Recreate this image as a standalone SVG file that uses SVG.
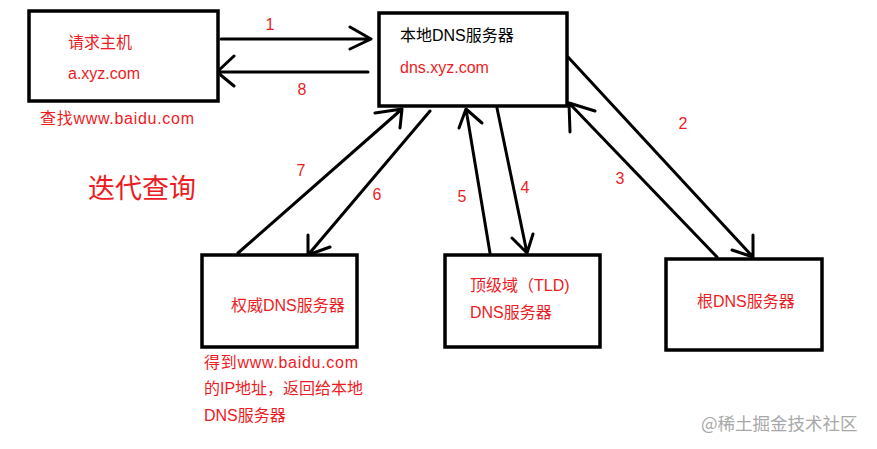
<svg xmlns="http://www.w3.org/2000/svg" width="877" height="449" viewBox="0 0 877 449">
<style>
.box{fill:#fff;stroke:#000;stroke-width:3.5}
.ln{fill:none;stroke:#000;stroke-width:3;stroke-linecap:round;stroke-linejoin:round}
.t{font-family:"Liberation Sans","Noto Sans CJK SC",sans-serif;font-size:16px;fill:#ED1C24}
.k{fill:#000}
.big{font-size:27px}
.wm{font-family:"Noto Sans CJK SC",sans-serif;font-size:17.5px;fill:#a8a8a8}
</style>
<rect width="877" height="449" fill="#fff"/>
<g id="connectors">
  <path class="ln" d="M221 39 L371 39 M350 27 L371 39 L350 49"/>
  <path class="ln" d="M368 72 L217 72 M234 56 L217 72 L234 86"/>
  <path class="ln" d="M568 57 L753 257 M753 235 L753 257 L732 250"/>
  <path class="ln" d="M717 257 L569 103 M595 111 L569 103 L570 132"/>
  <path class="ln" d="M497 108 L527 253 M512 238 L527 253 L533 234"/>
  <path class="ln" d="M490 253 L466 109 M459 128 L466 109 L482 123"/>
  <path class="ln" d="M430 111 L308 255 M308 235 L308 255 L330 247"/>
  <path class="ln" d="M238 253 L402 109 M375 113 L402 109 L400 128"/>
  <text class="t" x="270" y="30" text-anchor="middle">1</text>
  <text class="t" x="302" y="95" text-anchor="middle">8</text>
  <text class="t" x="683" y="129" text-anchor="middle">2</text>
  <text class="t" x="620" y="184" text-anchor="middle">3</text>
  <text class="t" x="525" y="193" text-anchor="middle">4</text>
  <text class="t" x="462" y="202" text-anchor="middle">5</text>
  <text class="t" x="377" y="200" text-anchor="middle">6</text>
  <text class="t" x="301" y="176" text-anchor="middle">7</text>
</g>
<g id="host">
  <rect class="box" x="29" y="11" width="189" height="90"/>
  <text class="t" x="68" y="48">请求主机</text>
  <text class="t" x="68" y="79">a.xyz.com</text>
  <text class="t" x="40" y="124" textLength="154">查找www.baidu.com</text>
</g>
<g id="local-dns">
  <rect class="box" x="379" y="13" width="188" height="93"/>
  <text class="t k" x="400" y="41">本地DNS服务器</text>
  <text class="t" x="400" y="73">dns.xyz.com</text>
</g>
<g id="auth-dns">
  <rect class="box" x="202" y="255" width="155" height="92"/>
  <text class="t" x="231" y="311">权威DNS服务器</text>
  <text class="t" x="204" y="368" textLength="154">得到www.baidu.com</text>
  <text class="t" x="204" y="394">的IP地址，返回给本地</text>
  <text class="t" x="204" y="421">DNS服务器</text>
</g>
<g id="tld-dns">
  <rect class="box" x="445" y="255" width="155" height="92"/>
  <text class="t" x="470" y="291">顶级域（TLD)</text>
  <text class="t" x="470" y="318">DNS服务器</text>
</g>
<g id="root-dns">
  <rect class="box" x="666" y="259" width="156" height="91"/>
  <text class="t" x="697" y="307">根DNS服务器</text>
</g>
<text class="t big" x="88" y="198">迭代查询</text>
<text class="wm" x="701" y="430">@稀土掘金技术社区</text>
</svg>
